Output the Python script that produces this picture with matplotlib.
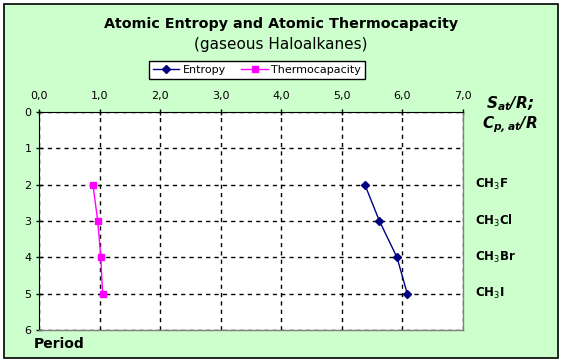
import matplotlib.pyplot as plt
from matplotlib.patches import Rectangle

# data
periods = [2, 3, 4, 5]
entropy = [5.38, 5.62, 5.91, 6.08]
thermocapacity = [0.89, 0.97, 1.02, 1.05]
compounds = ['CH$_3$F', 'CH$_3$Cl', 'CH$_3$Br', 'CH$_3$I']
x_ticks = [0, 1, 2, 3, 4, 5, 6, 7]
y_ticks = [0, 1, 2, 3, 4, 5, 6]

W, H = 562, 362
fig = plt.figure(figsize=(W / 100, H / 100), dpi=100)
fig.patch.set_facecolor('white')

# green chart area with black frame
fig.patches.append(Rectangle((4 / W, 4 / H), 554 / W, 354 / H, transform=fig.transFigure,
                             facecolor='#CCFFCC', edgecolor='black', linewidth=1.2, zorder=-5))

ax = fig.add_axes([39 / W, 1 - 330 / H, 424 / W, 218 / H])
ax.set_zorder(2)
ax.set_facecolor('white')

ax.plot(entropy, periods, color='#000080', marker='D', markersize=4, linewidth=1, label='Entropy')
ax.plot(thermocapacity, periods, color='#FF00FF', marker='s', markersize=5, linewidth=1,
        label='Thermocapacity')

ax.set_xlim(0, 7)
ax.set_ylim(6, 0)
ax.set_xticks(x_ticks)
ax.set_xticklabels([f'{v:.1f}'.replace('.', ',') for v in x_ticks])
ax.set_yticks(y_ticks)
ax.xaxis.tick_top()
ax.tick_params(axis='both', labelsize=8, length=4, direction='inout', width=1)
ax.tick_params(axis='x', pad=6)
ax.grid(True, color='black', linestyle=(0, (3, 3)), linewidth=1)

ax.spines['left'].set_color('black')
ax.spines['top'].set_color('black')
ax.spines['right'].set_color('gray')
ax.spines['bottom'].set_color('gray')
ax.spines['right'].set_linewidth(1)
ax.spines['bottom'].set_linewidth(1)

for p, c in zip(periods, compounds):
    ax.text(7.2, p, c, fontsize=8.5, fontweight='bold', va='center', ha='left', clip_on=False)

fig.text(510 / W, 1 - 104 / H, '$\\mathbfit{S}_{\\mathbfit{at}}$/R;', fontsize=11, ha='center',
         va='center', fontweight='bold', style='italic')
fig.text(510 / W, 1 - 125 / H, '$\\mathbfit{C}_{\\mathbfit{p,at}}$/R', fontsize=11, ha='center',
         va='center', fontweight='bold', style='italic')
fig.text(34 / W, 1 - 344 / H, 'Period', fontsize=10, fontweight='bold', ha='left', va='center')

fig.text(0.5, 1 - 24 / H, 'Atomic Entropy and Atomic Thermocapacity', fontsize=10.3,
         fontweight='bold', ha='center', va='center')
fig.text(0.5, 1 - 45 / H, '(gaseous Haloalkanes)', fontsize=11, ha='center', va='center')

leg = ax.legend(loc='center', bbox_to_anchor=(257 / W, 1 - 70 / H), bbox_transform=fig.transFigure,
                ncol=2, fontsize=8, frameon=True, fancybox=False, framealpha=1,
                edgecolor='black', handlelength=2.4, handletextpad=0.3, columnspacing=1.4,
                borderpad=0.35)
leg.get_frame().set_linewidth(1)

fig.savefig('out.png', dpi=100, facecolor=fig.get_facecolor())
